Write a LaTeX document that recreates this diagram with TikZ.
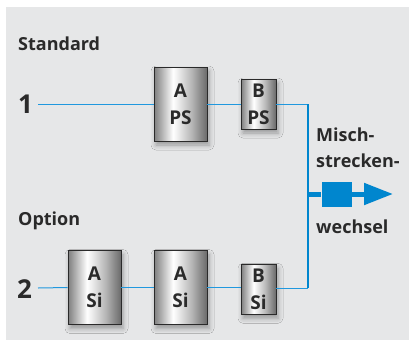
\documentclass[tikz,border=0pt]{standalone}
\usepackage{fontspec}
\setmainfont{Open Sans}
\usetikzlibrary{arrows.meta,shadows.blur}
\definecolor{bg}{HTML}{E6E7E8}
\definecolor{txt}{HTML}{2A2A2A}
\definecolor{lblue}{RGB}{32,152,222}
\definecolor{mblue}{RGB}{0,134,206}
\definecolor{edgeL}{HTML}{7E7E7E}
\definecolor{edgeR}{HTML}{6A6A6A}
\definecolor{midR}{HTML}{B8B8B8}
\pgfdeclarehorizontalshading{metal}{100bp}{color(0bp)=(edgeL); color(25bp)=(edgeL); color(43bp)=(white); color(60bp)=(midR); color(75bp)=(edgeR); color(100bp)=(edgeR)}
\tikzset{
  lbl/.style={font=\fontsize{18}{20}\selectfont\bfseries, text=txt, inner sep=0pt, anchor=base west},
  num/.style={font=\fontsize{26}{28}\selectfont\bfseries, text=txt, inner sep=0pt, anchor=base west},
  boxbase/.style={draw=txt, line width=0.9pt, shading=metal, inner sep=0pt, align=center,
    font=\fontsize{19}{27}\selectfont\bfseries, text=txt,
    blur shadow={shadow xshift=2pt, shadow yshift=-4pt, shadow blur radius=5pt, shadow opacity=35}},
  bigbox/.style={boxbase, minimum width=53pt, minimum height=74pt},
  smallbox/.style={boxbase, minimum width=35pt, minimum height=50pt},
  thinline/.style={draw=lblue, line width=1pt},
}
\begin{document}
\begin{tikzpicture}[x=1pt,y=-1pt]
\useasboundingbox (0,0) rectangle (409,340);
\fill[bg] (6,7) rectangle (409,340);

\node[lbl] (std) at (18,50) {Standard};
\node[lbl] (opt) at (18,225) {Option};
\node[num] (n1) at (18,113) {1};
\node[num] (n2) at (17,298) {2};

\node[bigbox] (aps) at (180.5,104) {A\\PS};
\node[smallbox] (bps) at (258.5,104) {B\\PS};

\node[bigbox] (asi1) at (94.5,287.5) {A\\Si};
\node[bigbox] (asi2) at (180.5,287.5) {A\\Si};
\node[smallbox] (bsi) at (258.5,289.3) {B\\Si};

\coordinate (j1) at (308,104);
\coordinate (j2) at (308,288);
\coordinate (jm) at (308,194);
\coordinate (tip) at (393,194);

\node[lbl] (m1) at (316,141.5) {Misch-};
\node[lbl] (m2) at (316,167) {strecken-};
\node[lbl] (m3) at (316,233) {wechsel};

\draw[thinline] (38,104) coordinate (s1) -- (aps.west);
\draw[thinline] (aps.east) -- (bps.west);
\draw[thinline] (bps.east) -- (j1);
\draw[thinline] (38,288) coordinate (s2) -- (asi1.west);
\draw[thinline] (asi1.east) -- (asi2.west);
\draw[thinline] (asi2.east) -- (bsi.west|-asi2.east);
\draw[thinline] (bsi.east|-j2) -- (j2);
\draw[draw=mblue, line width=1.5pt] (j1) -- (j2);

\node[fill=mblue, minimum width=30pt, minimum height=25pt, inner sep=0pt] (sq) at (336.5,194) {};
\draw[draw=mblue, line width=5pt] (jm) -- (sq.west);
\draw[draw=mblue, line width=5pt, -{Triangle[length=29pt,width=21pt]}] (sq.east) -- (tip);
\end{tikzpicture}
\end{document}
